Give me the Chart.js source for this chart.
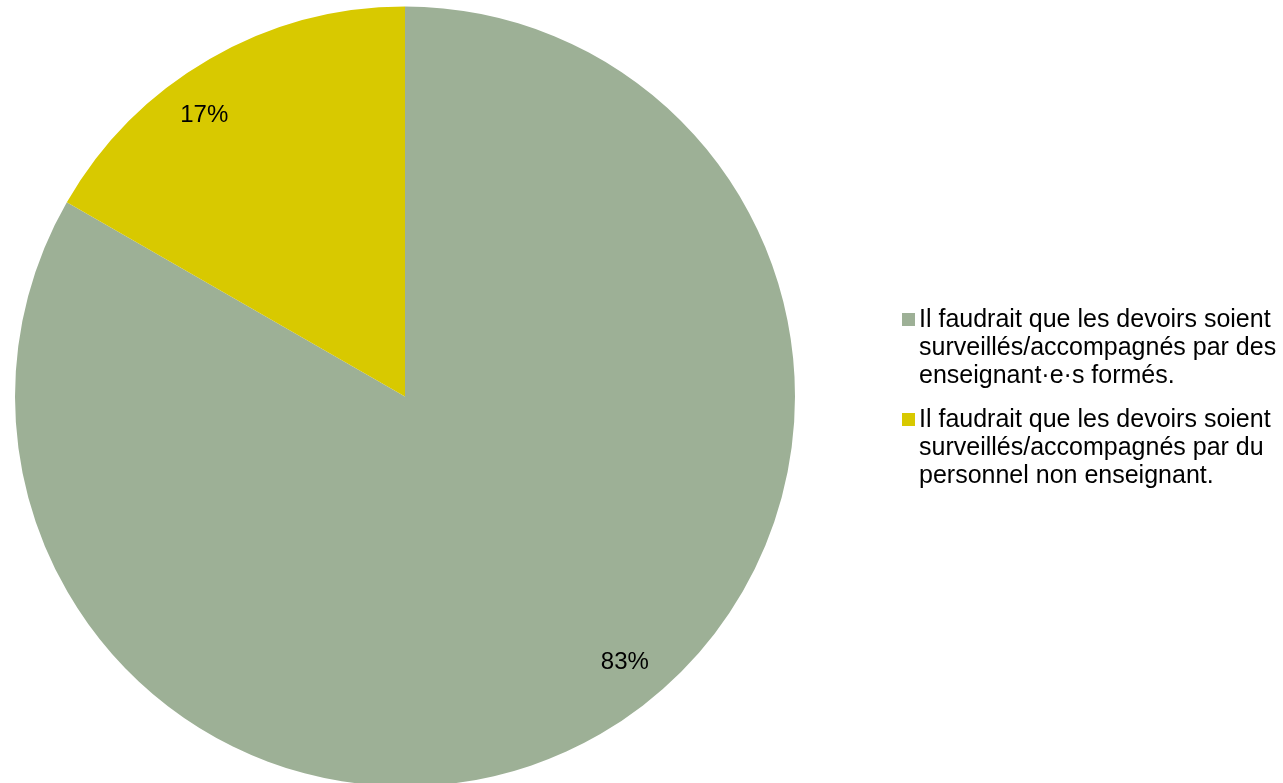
<!DOCTYPE html>
<html>
<head>
<meta charset="utf-8">
<script src="https://cdn.jsdelivr.net/npm/chart.js@4.4.0/dist/chart.umd.min.js"></script>
<style>
    html, body { margin: 0; padding: 0; background: #fff; overflow: hidden; }
    #wrap { position: relative; width: 1283px; height: 790px; }
    #legend { position: absolute; left: 902px; top: 304px; width: 381px; font-family: "Liberation Sans", Arial, sans-serif; font-size: 25px; line-height: 28px; color: #000; white-space: nowrap; }
    .item { position: relative; padding-left: 17px; margin-bottom: 16px; }
    .box { position: absolute; left: 0; top: 9px; width: 13px; height: 13px; }
</style>
</head>
<body>
<div id="wrap">
    <canvas id="pieChart"></canvas>
    <div id="legend"></div>
</div>
<script>
    const labels = [
        'Il faudrait que les devoirs soient surveillés/accompagnés par des enseignant·e·s formés.',
        'Il faudrait que les devoirs soient surveillés/accompagnés par du personnel non enseignant.'
    ];
    // line breaks as seen in the legend
    const legendLines = [
        ['Il faudrait que les devoirs soient', 'surveillés/accompagnés par des', 'enseignant·e·s formés.'],
        ['Il faudrait que les devoirs soient', 'surveillés/accompagnés par du', 'personnel non enseignant.']
    ];
    const values = [83.3, 16.7];
    const colors = ['#9DB096', '#D8C900'];

    function escapeHtml(text) {
        const div = document.createElement('div');
        div.textContent = text;
        return div.innerHTML;
    }

    document.getElementById('legend').innerHTML = legendLines.map((lines, i) => `
        <div class="item">
            <span class="box" style="background:${colors[i]}"></span>
            ${lines.map(escapeHtml).join('<br>')}
        </div>
    `).join('');

    // percentage labels inside the slices (best-fit style nudge, in degrees)
    const sliceLabels = {
        id: 'sliceLabels',
        afterDatasetsDraw(chart, args, opts) {
            const ctx = chart.ctx;
            const meta = chart.getDatasetMeta(0);
            const total = values.reduce((a, b) => a + b, 0);
            ctx.save();
            ctx.font = '24px "Liberation Sans", Arial, sans-serif';
            ctx.fillStyle = '#000';
            ctx.textAlign = 'center';
            ctx.textBaseline = 'middle';
            meta.data.forEach((arc, i) => {
                const p = arc.getProps(['x', 'y', 'startAngle', 'endAngle', 'outerRadius'], true);
                const mid = (p.startAngle + p.endAngle) / 2 + (opts.shift[i] || 0) * Math.PI / 180;
                const r = p.outerRadius * 0.885;
                const pct = Math.round(values[i] / total * 100) + '%';
                ctx.fillText(pct, p.x + Math.cos(mid) * r, p.y + Math.sin(mid) * r);
            });
            ctx.restore();
        }
    };

    const pieCtx = document.getElementById('pieChart').getContext('2d');
    new Chart(pieCtx, {
        type: 'pie',
        data: {
            labels: labels,
            datasets: [{
                data: values,
                backgroundColor: colors,
                borderWidth: 0
            }]
        },
        options: {
            responsive: true,
            maintainAspectRatio: false,
            animation: false,
            events: [],
            layout: { padding: { left: 15, right: 488, top: 6, bottom: 3 } },
            plugins: {
                legend: { display: false },
                tooltip: { enabled: false },
                sliceLabels: { shift: [-9.5, -5.5] }
            }
        },
        plugins: [sliceLabels]
    });
</script>
</body>
</html>
